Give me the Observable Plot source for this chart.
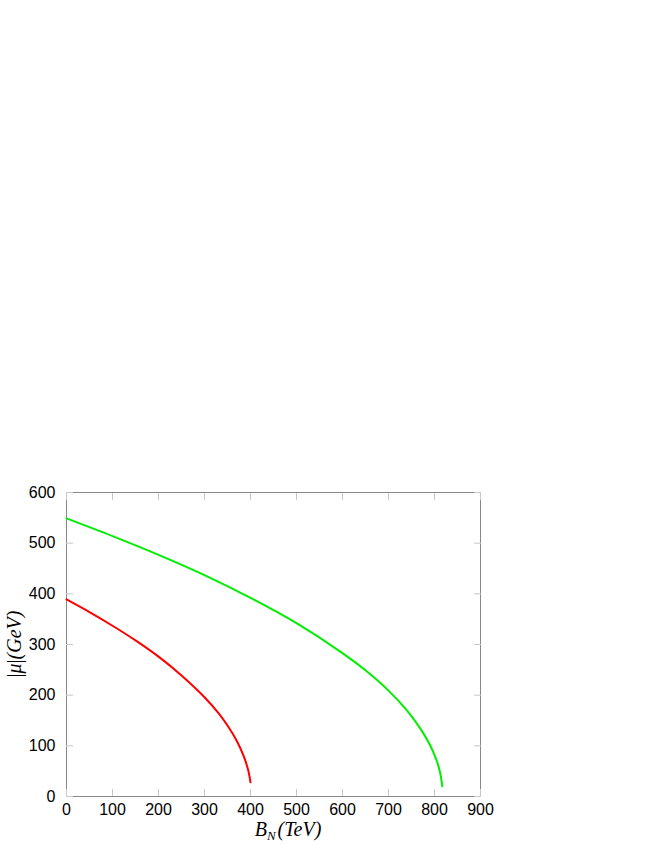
<!DOCTYPE html>
<html><head><meta charset="utf-8">
<script src="https://cdn.jsdelivr.net/npm/d3@7"></script>
<script src="https://cdn.jsdelivr.net/npm/@observablehq/plot@0.6"></script>
<style>body{margin:0;background:#fff}</style>
</head><body><div id="chart"></div>
<script>
const xTicks = [0,100,200,300,400,500,600,700,800,900];
const yTicks = [0,100,200,300,400,500,600];
const redX = [0,50,100,150,200,250,300,330,350,370,385,395,400];
const redY = [389,364,337,308,276,239,196,165,140,110,80,52,28];
const greenX = [0,100,200,300,400,500,600,650,700,740,770,790,805,812,817];
const greenY = [549,514,477,437,392,342,283,249,209,170,133,102,70,48,20];

const red = redX.map((x,i)=>({x, y: redY[i]}));
const green = greenX.map((x,i)=>({x, y: greenY[i]}));

const chart = Plot.plot({
  width: 654, height: 846,
  marginTop: 492, marginLeft: 66, marginRight: 174, marginBottom: 50,
  style: {fontFamily: "'Liberation Sans', Arial, sans-serif", fontSize: "16px", background: "white", color: "black"},
  x: {domain: [0, 900]},
  y: {domain: [0, 600]},
  marks: [
    Plot.frame({stroke: "#888"}),
    Plot.axisX({ticks: xTicks, tickSize: -7, tickPadding: 14, stroke: "#c8c8c8", fill: "black", label: null}),
    Plot.axisX({anchor: "top", ticks: xTicks, tickSize: -7, stroke: "#c8c8c8", tickFormat: () => "", label: null}),
    Plot.axisY({ticks: yTicks, tickSize: -7, tickPadding: 18, stroke: "#c8c8c8", fill: "black", label: null}),
    Plot.axisY({anchor: "right", ticks: yTicks, tickSize: -7, stroke: "#c8c8c8", tickFormat: () => "", label: null}),
    Plot.line(red, {x: "x", y: "y", stroke: "#ff0000", strokeWidth: 2, curve: "catmull-rom"}),
    Plot.line(green, {x: "x", y: "y", stroke: "#00ee00", strokeWidth: 2, curve: "catmull-rom"})
  ]
});
document.getElementById("chart").appendChild(chart);

const svg = d3.select(chart);
const serif = "'Liberation Serif', 'DejaVu Serif', serif";
const xl = svg.append("text")
  .attr("x", 288).attr("y", 836)
  .attr("text-anchor", "middle")
  .attr("font-family", serif).attr("font-size", 20).attr("font-style", "italic").attr("fill", "black");
xl.append("tspan").text("B");
xl.append("tspan").attr("dy", 4).attr("font-size", 13).text("N");
xl.append("tspan").attr("dy", -4).attr("dx", 2).text("(TeV)");

const yl = svg.append("text")
  .attr("transform", "translate(21,644) rotate(-90)")
  .attr("text-anchor", "middle")
  .attr("font-family", serif).attr("font-size", 20).attr("fill", "black");
yl.append("tspan").text("|");
yl.append("tspan").attr("font-style", "italic").text("μ");
yl.append("tspan").text("|");
yl.append("tspan").attr("font-style", "italic").text("(GeV)");
</script>
</body></html>
